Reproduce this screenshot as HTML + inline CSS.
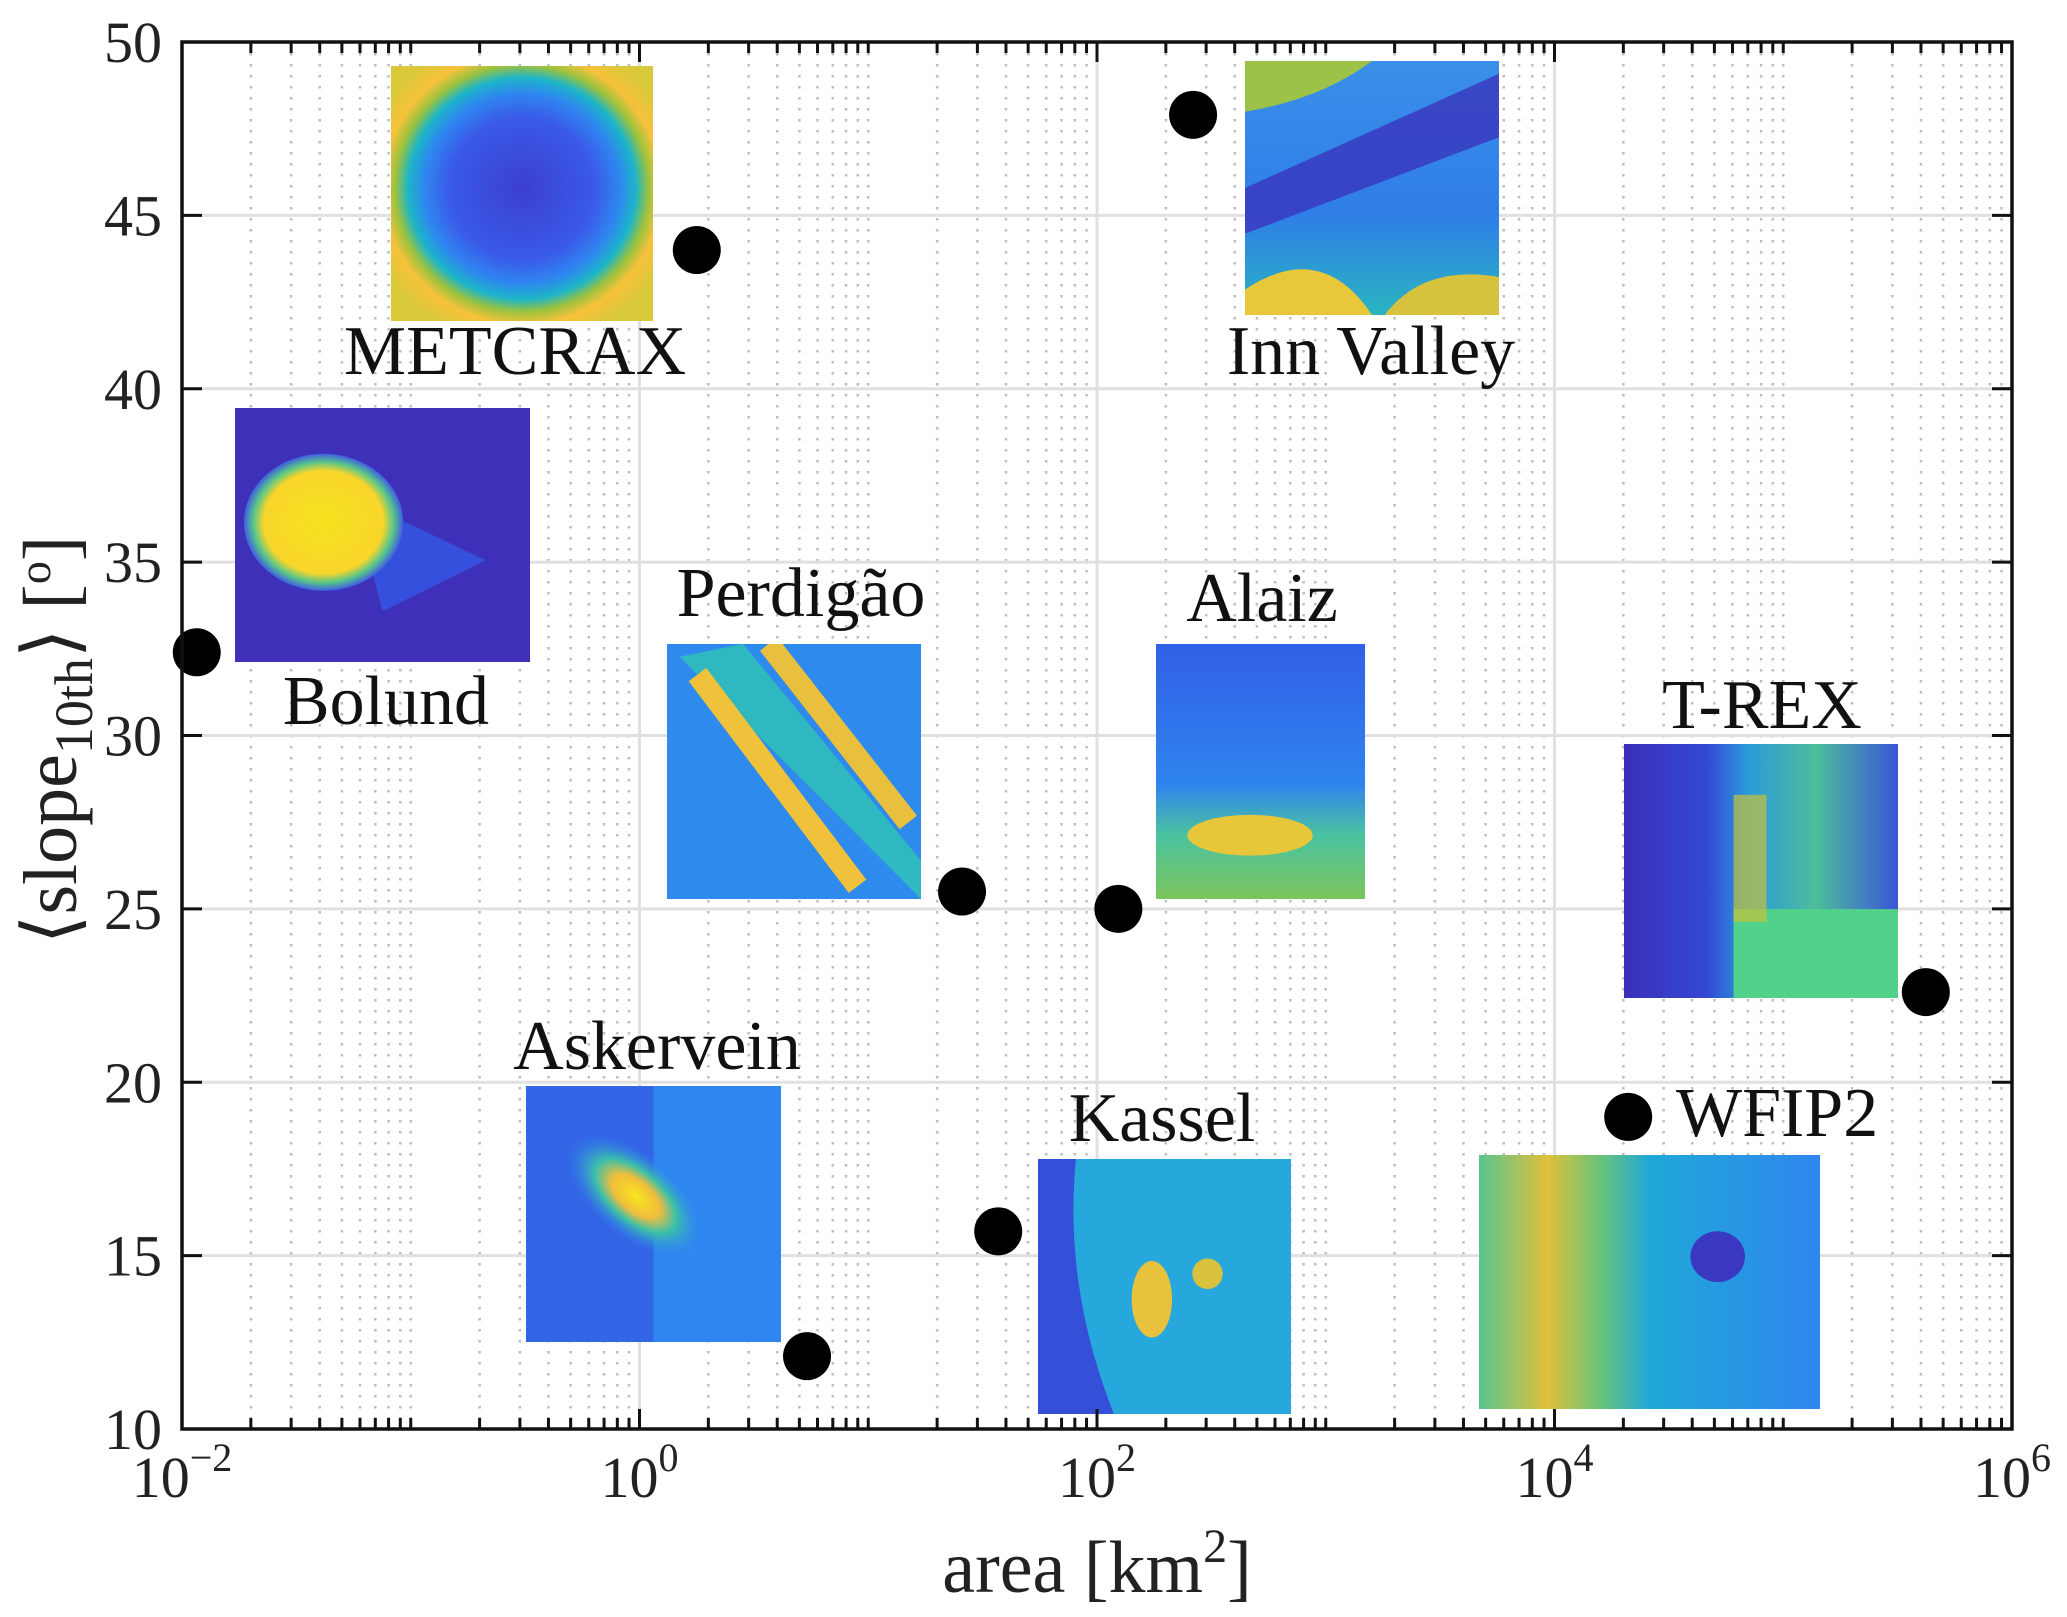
<!DOCTYPE html>
<html><head><meta charset="utf-8"><style>
html,body{margin:0;padding:0;background:#fff}
svg{display:block;font-family:"Liberation Serif",serif}
</style></head><body>
<svg id="chart" width="2067" height="1617" viewBox="0 0 2067 1617" xmlns="http://www.w3.org/2000/svg">
<defs>
<radialGradient id="gMet" cx="0.5" cy="0.48" r="0.62">
<stop offset="0" stop-color="#3b3fd0"/><stop offset="0.45" stop-color="#3a5ae8"/><stop offset="0.6" stop-color="#2f86f0"/><stop offset="0.7" stop-color="#1cb5c8"/><stop offset="0.78" stop-color="#9cc23e"/><stop offset="0.86" stop-color="#f6c23a"/><stop offset="1" stop-color="#d8c83a"/></radialGradient>
<radialGradient id="gBol" cx="0.5" cy="0.5" r="0.5">
<stop offset="0" stop-color="#f4e21e"/><stop offset="0.75" stop-color="#f8d52a"/><stop offset="0.88" stop-color="#58c68a"/><stop offset="1" stop-color="#3f5fe0"/></radialGradient>
<radialGradient id="gAsk" cx="0.5" cy="0.5" r="0.5">
<stop offset="0" stop-color="#f7e61c"/><stop offset="0.35" stop-color="#f2bd3c"/><stop offset="0.6" stop-color="#3cc0a8"/><stop offset="1" stop-color="#2f86f0" stop-opacity="0"/></radialGradient>
<linearGradient id="gInn" x1="0" y1="0" x2="0" y2="1"><stop offset="0" stop-color="#3a8fe8"/><stop offset="0.6" stop-color="#2f7ee8"/><stop offset="1" stop-color="#2ab4c0"/></linearGradient>
<linearGradient id="gAla" x1="0" y1="0" x2="0" y2="1"><stop offset="0" stop-color="#3060e6"/><stop offset="0.55" stop-color="#2f84ee"/><stop offset="0.75" stop-color="#4ac3a0"/><stop offset="1" stop-color="#7cc45c"/></linearGradient>
<linearGradient id="gWf" x1="0" y1="0" x2="1" y2="0"><stop offset="0" stop-color="#58c490"/><stop offset="0.2" stop-color="#e0c03a"/><stop offset="0.35" stop-color="#6cc476"/><stop offset="0.5" stop-color="#20a8d8"/><stop offset="1" stop-color="#2f86ee"/></linearGradient>
<linearGradient id="gTrex" x1="0" y1="0" x2="1" y2="0"><stop offset="0" stop-color="#3b2fb8"/><stop offset="0.3" stop-color="#3448d4"/><stop offset="0.45" stop-color="#2a9adc"/><stop offset="0.7" stop-color="#4dbd9a"/><stop offset="1" stop-color="#3a55d8"/></linearGradient>
</defs>
<rect x="0" y="0" width="2067" height="1617" fill="#fff"/>
<g id="grid"></g>
<g id="thumbs"></g>
<g id="marks"></g>
<g id="axes"></g>
<g id="labels"></g>
</svg>
<script>
const siteNames = ["Bolund","METCRAX","Inn Valley","Perdigão","Alaiz","T-REX","WFIP2","Kassel","Askervein"];
const siteArea = [0.0116, 1.78, 263, 25.7, 124, 420000, 21000, 37, 5.4];
const siteSlope = [32.4, 44.0, 47.9, 25.5, 25.0, 22.6, 19.0, 15.7, 12.1];
const yTicks = [10,15,20,25,30,35,40,45,50];
const xTickExp = [-2,0,2,4,6];

const NS="http://www.w3.org/2000/svg";
const L=182,R=2012,T=42,B=1429;
const xMin=-2,xMax=6,yMin=10,yMax=50;
function sx(v){return L+(Math.log10(v)-xMin)/(xMax-xMin)*(R-L);}
function sy(v){return B-(v-yMin)/(yMax-yMin)*(B-T);}
function mk(tag,attrs,parent){const e=document.createElementNS(NS,tag);for(const k in attrs)e.setAttribute(k,attrs[k]);parent.appendChild(e);return e;}

const grid=document.getElementById('grid'),axes=document.getElementById('axes'),marks=document.getElementById('marks'),labels=document.getElementById('labels'),thumbs=document.getElementById('thumbs');

for(let e=xMin;e<xMax;e++){
  for(let m=1;m<10;m++){
    const v=m*Math.pow(10,e);const x=sx(v);
    const major=(m===1&&xTickExp.includes(e));
    if(major)continue;
    const gl=mk('line',{x1:x,y1:T,x2:x,y2:B,stroke:'#bdbdbd','stroke-width':2.5,'stroke-dasharray':'2.5 8.5'},grid);
    
    mk('line',{x1:x,y1:B,x2:x,y2:B-11,stroke:'#111','stroke-width':3},axes);
    mk('line',{x1:x,y1:T,x2:x,y2:T+11,stroke:'#111','stroke-width':3},axes);
  }
}
xTickExp.forEach(e=>{
  const x=sx(Math.pow(10,e));
  if(e>xMin&&e<xMax){const g=mk('line',{x1:x,y1:T,x2:x,y2:B,stroke:'#e0e0e0','stroke-width':3},grid);
  }
  mk('line',{x1:x,y1:B,x2:x,y2:B-20,stroke:'#111','stroke-width':3},axes);
  mk('line',{x1:x,y1:T,x2:x,y2:T+20,stroke:'#111','stroke-width':3},axes);
  const t=mk('text',{x:x,y:1497,'font-size':58,'text-anchor':'middle',fill:'#222'},labels);
  
  t.appendChild(document.createTextNode('10'));
  const s=mk('tspan',{dy:-26,'font-size':40},t);s.textContent=String(e).replace('-','−');
});
yTicks.forEach(v=>{
  const y=sy(v);
  if(v>yMin&&v<yMax){const g=mk('line',{x1:L,y1:y,x2:R,y2:y,stroke:'#e0e0e0','stroke-width':3},grid);
  }
  mk('line',{x1:L,y1:y,x2:L+20,y2:y,stroke:'#111','stroke-width':3},axes);
  mk('line',{x1:R,y1:y,x2:R-20,y2:y,stroke:'#111','stroke-width':3},axes);
  const t=mk('text',{x:162,y:y+20,'font-size':58,'text-anchor':'end',fill:'#222'},labels);
  
  t.textContent=v;
});
const frame=mk('rect',{x:L,y:T,width:R-L,height:B-T,fill:'none',stroke:'#111','stroke-width':3.5},axes);


function thumb(name,x,y,w,h,draw){const g=mk('g',{transform:`translate(${x},${y})`},thumbs);
  
  const cp=mk('clipPath',{id:'c'+name},g);mk('rect',{width:w,height:h},cp);
  const inner=mk('g',{'clip-path':`url(#c${name})`},g);draw(inner,w,h);}
thumb('metcrax-image',391,66,262,255,(g,w,h)=>{mk('rect',{width:w,height:h,fill:'#e8c036'},g);mk('rect',{width:w,height:h,fill:'url(#gMet)'},g);});
thumb('inn-valley-image',1245,61,254,254,(g,w,h)=>{mk('rect',{width:w,height:h,fill:'url(#gInn)'},g);
  mk('path',{d:`M0 ${h*0.5} L${w} ${h*0.05} L${w} ${h*0.3} L0 ${h*0.68}Z`,fill:'#3a3ac0',opacity:0.85},g);
  mk('path',{d:`M0 ${h*0.9} Q${w*0.3} ${h*0.7} ${w*0.5} ${h} L0 ${h}Z`,fill:'#e8c83a'},g);
  mk('path',{d:`M${w*0.55} ${h} Q${w*0.7} ${h*0.8} ${w} ${h*0.85} L${w} ${h}Z`,fill:'#d6c23e'},g);
  mk('path',{d:`M0 0 L${w*0.5} 0 Q${w*0.3} ${h*0.15} 0 ${h*0.2}Z`,fill:'#9cc24a'},g);});
thumb('bolund-image',235,408,295,254,(g,w,h)=>{mk('rect',{width:w,height:h,fill:'#3e30b8'},g);
  mk('path',{d:`M${w*0.4} ${h*0.35} L${w*0.85} ${h*0.6} L${w*0.5} ${h*0.8}Z`,fill:'#3550dc'},g);
  mk('ellipse',{cx:w*0.3,cy:h*0.45,rx:w*0.27,ry:h*0.27,fill:'url(#gBol)'},g);});
thumb('perdigao-image',667,644,254,255,(g,w,h)=>{mk('rect',{width:w,height:h,fill:'#2f8aee'},g);
  mk('path',{d:`M${w*0.05} ${h*0.05} L${w*0.3} 0 L${w} ${h*0.85} L${w} ${h} Z`,fill:'#30b8c0'},g);
  mk('line',{x1:w*0.12,y1:h*0.12,x2:w*0.75,y2:h*0.95,stroke:'#f0c23c','stroke-width':22},g);
  mk('line',{x1:w*0.4,y1:0,x2:w*0.95,y2:h*0.7,stroke:'#e8c03e','stroke-width':22},g);});
thumb('alaiz-image',1156,644,209,255,(g,w,h)=>{mk('rect',{width:w,height:h,fill:'url(#gAla)'},g);
  mk('ellipse',{cx:w*0.45,cy:h*0.75,rx:w*0.3,ry:h*0.08,fill:'#e8c63a'},g);});
thumb('trex-image',1624,744,274,254,(g,w,h)=>{mk('rect',{width:w,height:h,fill:'url(#gTrex)'},g);
  mk('rect',{x:w*0.4,y:h*0.65,width:w*0.6,height:h*0.35,fill:'#52d18a'},g);
  mk('rect',{x:w*0.4,y:h*0.2,width:w*0.12,height:h*0.5,fill:'#c8c23c',opacity:0.7},g);});
thumb('askervein-image',526,1086,255,256,(g,w,h)=>{mk('rect',{width:w,height:h,fill:'#2f86f0'},g);
  mk('rect',{width:w*0.5,height:h,fill:'#3366e6'},g);
  mk('ellipse',{cx:w*0.43,cy:h*0.43,rx:w*0.32,ry:h*0.16,transform:`rotate(40 ${w*0.43} ${h*0.43})`,fill:'url(#gAsk)'},g);});
thumb('kassel-image',1038,1159,253,255,(g,w,h)=>{mk('rect',{width:w,height:h,fill:'#27a8dc'},g);
  mk('path',{d:`M0 0 L${w*0.15} 0 Q${w*0.1} ${h*0.5} ${w*0.3} ${h} L0 ${h}Z`,fill:'#3450d8'},g);
  mk('ellipse',{cx:w*0.45,cy:h*0.55,rx:w*0.08,ry:h*0.15,fill:'#e8c23c'},g);
  mk('ellipse',{cx:w*0.67,cy:h*0.45,rx:w*0.06,ry:h*0.06,fill:'#d8c23e'},g);});
thumb('wfip2-image',1479,1155,341,254,(g,w,h)=>{mk('rect',{width:w,height:h,fill:'url(#gWf)'},g);
  mk('ellipse',{cx:w*0.7,cy:h*0.4,rx:w*0.08,ry:h*0.1,fill:'#3a38c0'},g);});

siteNames.forEach((n,i)=>{
  const c=mk('circle',{cx:sx(siteArea[i]),cy:sy(siteSlope[i]),r:24,fill:'#000'},marks);
  
  
});

const siteLabelPos=[[386,724,'middle'],[515,374,'middle'],[1371,374,'middle'],[801,616,'middle'],[1262,621,'middle'],[1762,728,'middle'],[1676,1136,'start'],[1162,1141,'middle'],[657,1069,'middle']];
siteNames.forEach((n,i)=>{
  const p=siteLabelPos[i];
  const t=mk('text',{x:p[0],y:p[1],'font-size':70,'text-anchor':p[2],fill:'#111'},labels);
  
  
  t.textContent=n;
});

const xt=mk('text',{x:1097,y:1592,'font-size':74,'text-anchor':'middle',fill:'#222'},labels);

xt.appendChild(document.createTextNode('area [km'));
const sup=mk('tspan',{dy:-30,'font-size':48},xt);sup.textContent='2';
const rest=mk('tspan',{dy:30},xt);rest.textContent=']';
const yt=mk('text',{x:0,y:0,'font-size':76,'text-anchor':'middle',fill:'#222',transform:'translate(76,740) rotate(-90)'},labels);

yt.appendChild(document.createTextNode('⟨slope'));
const sub=mk('tspan',{dy:16,'font-size':54},yt);sub.textContent='10th';
const r2=mk('tspan',{dy:-16},yt);r2.textContent='⟩ [';
const o=mk('tspan',{dy:-26,'font-size':46},yt);o.textContent='o';
const r3=mk('tspan',{dy:26},yt);r3.textContent=']';
</script>
</body></html>
